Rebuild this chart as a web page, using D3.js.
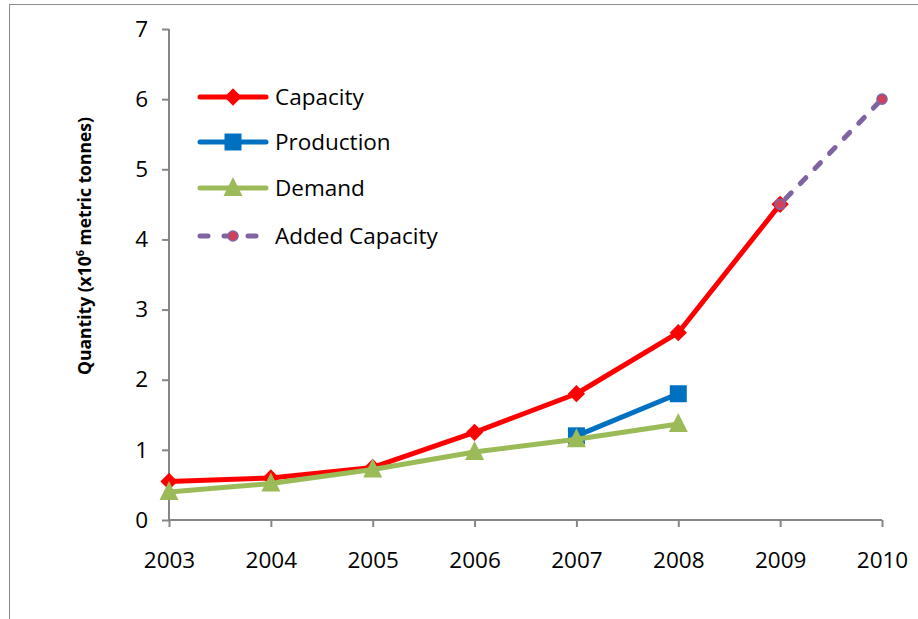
<!DOCTYPE html>
<html><head><meta charset="utf-8">
<script src="https://cdn.jsdelivr.net/npm/d3@7"></script>
<style>body{margin:0;background:#fff}svg{display:block}text{font-family:"Open Sans",sans-serif}</style>
</head><body>
<svg id="c" width="918" height="619"></svg>
<script>
const years = [2003, 2004, 2005, 2006, 2007, 2008, 2009, 2010];
const capacity = [0.55, 0.6, 0.75, 1.25, 1.8, 2.67, 4.5, null];
const production = [null, null, null, null, 1.2, 1.8, null, null];
const demand = [0.4, 0.52, 0.72, 0.97, 1.15, 1.37, null, null];
const addedCapacity = [null, null, null, null, null, null, 4.5, 6.0];
const yTicks = [0, 1, 2, 3, 4, 5, 6, 7];
const seriesNames = ["Capacity", "Production", "Demand", "Added Capacity"];

const svg = d3.select("#c");
svg.append("rect").attr("x", 9.5).attr("y", 4.5).attr("width", 1000).attr("height", 1000)
  .attr("fill", "none").attr("stroke", "#8c8c8c").attr("stroke-width", 1);

const x = d3.scalePoint().domain(years).range([169, 882]);
const y = d3.scaleLinear().domain([0, 7]).range([520, 29]);

const fs = 22.5;
const yAxis = svg.append("g").attr("transform", "translate(169,0)")
  .call(d3.axisLeft(y).tickValues(yTicks).tickSize(7).tickPadding(14).tickFormat(d3.format("d")));
const xAxis = svg.append("g").attr("transform", "translate(0,520)")
  .call(d3.axisBottom(x).tickSize(7).tickPadding(25).tickFormat(d3.format("d")));
[yAxis, xAxis].forEach(g => {
  g.selectAll("path,line").attr("stroke", "#868686").attr("stroke-width", 2);
  g.select(".domain").attr("d", g === yAxis ? "M0,29V520" : "M169,0H882");
  g.selectAll("text").attr("fill", "#000").style("font-size", fs + "px").style("font-family", "'Open Sans',sans-serif");
});

const t = svg.append("text").attr("transform", "translate(91,246) rotate(-90)")
  .attr("text-anchor", "middle").style("font-size", "17.5px").style("font-weight", "bold");
t.append("tspan").text("Quantity (x10");
t.append("tspan").text("6").style("font-size", "11px").attr("dy", -7);
t.append("tspan").text(" metric tonnes)").attr("dy", 7);

const pts = arr => years.map((yr, i) => ({yr, v: arr[i]})).filter(d => d.v != null);
const line = d3.line().x(d => x(d.yr)).y(d => y(d.v));

const colors = {cap: "#ff0000", prod: "#0070c0", dem: "#9bbb59", add: "#8064a2"};

function drawMarker(g, type, cx, cy) {
  if (type === "diamond") {
    g.append("path").attr("d", d3.symbol(d3.symbolDiamond2, 190)()).attr("fill", colors.cap)
      .attr("transform", `translate(${cx},${cy})`);
  } else if (type === "square") {
    g.append("rect").attr("x", cx - 8.5).attr("y", cy - 8.5).attr("width", 17).attr("height", 17).attr("fill", colors.prod);
  } else if (type === "triangle") {
    g.append("path").attr("d", `M${cx},${cy - 11}L${cx + 9.5},${cy + 8}L${cx - 9.5},${cy + 8}Z`).attr("fill", colors.dem);
  } else if (type === "circle") {
    g.append("circle").attr("cx", cx).attr("cy", cy).attr("r", 5).attr("fill", "#d2415a")
      .attr("stroke", colors.add).attr("stroke-width", 1.6);
  }
}

const plot = svg.append("g");
function series(arr, color, marker, dashed) {
  const g = plot.append("g");
  const p = g.append("path").datum(pts(arr)).attr("d", line).attr("fill", "none")
    .attr("stroke", color).attr("stroke-width", 5).attr("stroke-linejoin", "round");
  if (dashed) p.attr("stroke-dasharray", "8,13").attr("stroke-linecap", "round").attr("stroke-dashoffset", -8);
  pts(arr).forEach(d => drawMarker(g, marker, x(d.yr), y(d.v)));
}
series(capacity, colors.cap, "diamond");
series(production, colors.prod, "square");
series(demand, colors.dem, "triangle");
series(addedCapacity, colors.add, "circle", true);

const legRows = [97, 142, 188, 236];
const legTypes = [["cap", "diamond"], ["prod", "square"], ["dem", "triangle"], ["add", "circle"]];
seriesNames.forEach((name, i) => {
  const g = svg.append("g");
  const ly = legRows[i];
  const [c, m] = legTypes[i];
  const ln = g.append("line").attr("x1", 200).attr("x2", 266).attr("y1", ly).attr("y2", ly)
    .attr("stroke", colors[c]).attr("stroke-width", 5).attr("stroke-linecap", "round");
  if (c === "add") ln.attr("stroke-dasharray", "8,16");
  drawMarker(g, m, 233, ly);
  g.append("text").attr("x", 275).attr("y", ly).attr("dy", "0.35em").style("font-size", "22.5px").text(name);
});
</script>
</body></html>
